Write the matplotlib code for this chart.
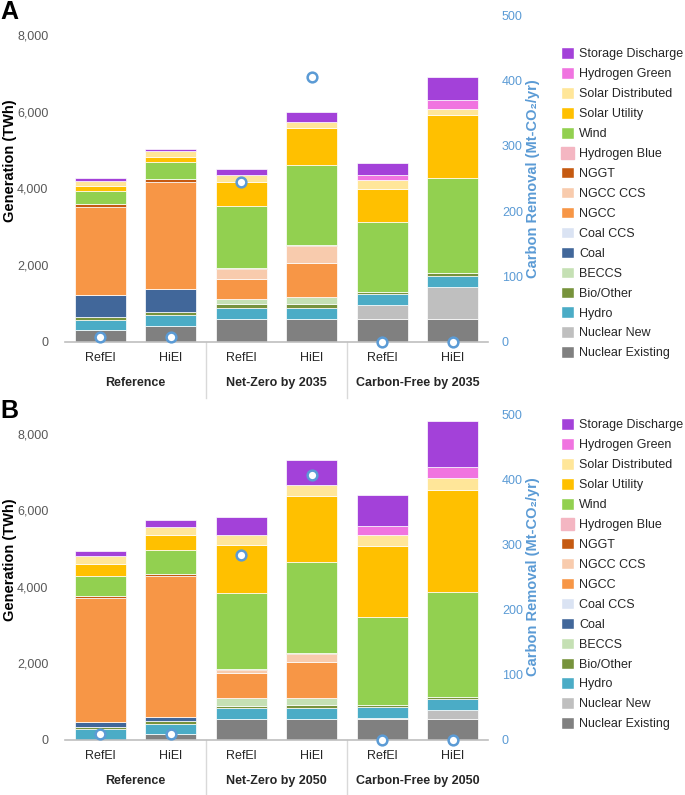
import numpy as np
import matplotlib
matplotlib.use("Agg")
import matplotlib.pyplot as plt
from matplotlib.patches import Patch
from matplotlib.transforms import blended_transform_factory

plt.rcParams['font.family'] = ['Liberation Sans', 'DejaVu Sans']

cases = ["RefEl", "HiEl", "RefEl", "HiEl", "RefEl", "HiEl"]
groups_a = ["Reference", "Net-Zero by 2035", "Carbon-Free by 2035"]
groups_b = ["Reference", "Net-Zero by 2050", "Carbon-Free by 2050"]

# stacking order bottom -> top
techs = ["Nuclear Existing", "Nuclear New", "Hydro", "Bio/Other", "BECCS", "Coal",
         "Coal CCS", "NGCC", "NGCC CCS", "NGGT", "Hydrogen Blue", "Wind",
         "Solar Utility", "Solar Distributed", "Hydrogen Green", "Storage Discharge"]
colors = ["#808080", "#BFBFBF", "#4BACC6", "#77933C", "#C5E0B4", "#41679A",
          "#DAE3F3", "#F79646", "#F8CBAD", "#C55A11", "#F4B6C2", "#92D050",
          "#FFC000", "#FFE699", "#F074E0", "#A341D9"]

# panel A: 2035 generation (TWh)
nuc_exist_a = [300, 420, 608, 608, 591, 591]
nuc_new_a = [0, 0, 0, 0, 365, 843]
hydro_a = [282, 284, 287, 287, 287, 287]
bio_a = [65, 78, 87, 87, 52, 78]
beccs_a = [0, 0, 148, 191, 0, 0]
coal_a = [578, 591, 0, 0, 0, 0]
coal_ccs_a = [0, 0, 0, 0, 0, 0]
ngcc_a = [2295, 2800, 512, 878, 0, 0]
ngcc_ccs_a = [0, 0, 261, 452, 0, 0]
nggt_a = [70, 70, 26, 17, 0, 0]
h2_blue_a = [0, 0, 0, 0, 0, 0]
wind_a = [348, 443, 1625, 2103, 1833, 2476]
solar_util_a = [130, 139, 617, 956, 869, 1634]
solar_dist_a = [139, 148, 183, 165, 218, 157]
h2_green_a = [0, 0, 0, 0, 147, 234]
storage_a = [61, 60, 165, 252, 296, 617]
removal_a = [7, 7, 245, 405, 0, 0]

# panel B: 2050 generation (TWh)
nuc_exist_b = [0, 148, 548, 548, 548, 548]
nuc_new_b = [0, 0, 0, 0, 35, 235]
hydro_b = [287, 277, 296, 296, 287, 287]
bio_b = [60, 62, 52, 60, 34, 52]
beccs_b = [0, 0, 200, 200, 0, 0]
coal_b = [122, 121, 0, 0, 0, 0]
coal_ccs_b = [0, 0, 0, 0, 0, 0]
ngcc_b = [3235, 3679, 643, 940, 0, 0]
ngcc_ccs_b = [0, 0, 78, 191, 0, 0]
nggt_b = [61, 61, 35, 35, 0, 0]
h2_blue_b = [0, 0, 0, 0, 0, 0]
wind_b = [513, 609, 1983, 2382, 2305, 2739]
solar_util_b = [313, 391, 1252, 1722, 1852, 2670]
solar_dist_b = [218, 217, 278, 278, 304, 313]
h2_green_b = [0, 0, 0, 0, 218, 287]
storage_b = [139, 174, 453, 661, 809, 1217]
removal_b = [9, 9, 284, 406, 0, 0]

panel_a = [nuc_exist_a, nuc_new_a, hydro_a, bio_a, beccs_a, coal_a, coal_ccs_a, ngcc_a,
           ngcc_ccs_a, nggt_a, h2_blue_a, wind_a, solar_util_a, solar_dist_a, h2_green_a, storage_a]
panel_b = [nuc_exist_b, nuc_new_b, hydro_b, bio_b, beccs_b, coal_b, coal_ccs_b, ngcc_b,
           ngcc_ccs_b, nggt_b, h2_blue_b, wind_b, solar_util_b, solar_dist_b, h2_green_b, storage_b]

BLUE = "#5B9BD5"
W, H = 685, 795
fig = plt.figure(figsize=(W / 100, H / 100), dpi=100)


def draw_panel(rect, stack, removal, groups, letter, letter_top):
    ax = fig.add_axes(rect)
    x = np.arange(len(cases))
    bottom = np.zeros(len(cases))
    for name, col, vals in zip(techs, colors, stack):
        vals = np.array(vals, dtype=float)
        hatch = "////" if name == "Hydrogen Blue" else None
        ax.bar(x, vals, 0.72, bottom=bottom, color=col, edgecolor="white",
               linewidth=0.5, hatch=hatch, zorder=2)
        bottom += vals
    ax.set_xlim(-0.5, 5.5)
    ax.set_ylim(0, 8520)
    ax.set_yticks([0, 2000, 4000, 6000, 8000])
    ax.set_yticklabels(["0", "2,000", "4,000", "6,000", "8,000"])
    ax.set_xticks(x)
    ax.set_xticklabels(cases, fontsize=9, color="#262626")
    ax.tick_params(length=0, pad=7)
    ax.tick_params(axis="y", labelsize=9, labelcolor="#595959", pad=12)
    for s in ["top", "left", "right"]:
        ax.spines[s].set_visible(False)
    ax.spines["bottom"].set_color("#BFBFBF")
    ax.spines["bottom"].set_linewidth(1.2)
    ax.set_ylabel("Generation (TWh)", fontsize=10.5, fontweight="bold")
    ax.yaxis.set_label_coords(-0.1135, 0.553)

    tr = blended_transform_factory(ax.transData, ax.transAxes)
    for i, g in enumerate(groups):
        ax.text(2 * i + 0.5, -0.126, g, transform=tr, ha="center", va="center",
                fontsize=9, fontweight="bold", color="#262626")
    for xs in [1.5, 3.5]:
        ax.plot([xs, xs], [0, -0.17], transform=tr, color="#D9D9D9", lw=1, clip_on=False)

    ax2 = ax.twinx()
    ax2.set_ylim(0, 500)
    ax2.set_yticks([0, 100, 200, 300, 400, 500])
    ax2.tick_params(length=0, labelsize=9, labelcolor=BLUE, pad=10)
    for s in ["top", "left", "right", "bottom"]:
        ax2.spines[s].set_visible(False)
    ax2.plot(x, removal, "o", ms=7, mfc="white", mec=BLUE, mew=1.8, zorder=5, clip_on=False)
    ax2.set_ylabel("Carbon Removal (Mt-CO\u2082/yr)", fontsize=10.5, fontweight="bold",
                   color=BLUE)
    ax2.yaxis.set_label_coords(1.09, 0.5)

    fig.text(0.5 / W, 1 - letter_top / H, letter, fontsize=18, fontweight="bold",
             va="top", ha="left")
    return ax


ax_a = draw_panel([65 / W, 1 - 342 / H, 423 / W, 327 / H], panel_a, removal_a, groups_a, "A", 0)
ax_b = draw_panel([65 / W, 1 - 740 / H, 423 / W, 326 / H], panel_b, removal_b, groups_b, "B", 399)

handles = [Patch(facecolor=c, edgecolor="white" if n != "Hydrogen Blue" else "#F4B6C2",
                 hatch="////" if n == "Hydrogen Blue" else None, label=n)
           for n, c in zip(techs, colors)][::-1]
for top in [41, 412]:
    fig.legend(handles=handles, loc="upper left", bbox_to_anchor=(555 / W, 1 - top / H),
               frameon=False, fontsize=9, handlelength=1.05, handleheight=1.05,
               handletextpad=0.4, labelspacing=0.55, borderpad=0, labelcolor="#262626")

fig.savefig("out.png", dpi=100)
